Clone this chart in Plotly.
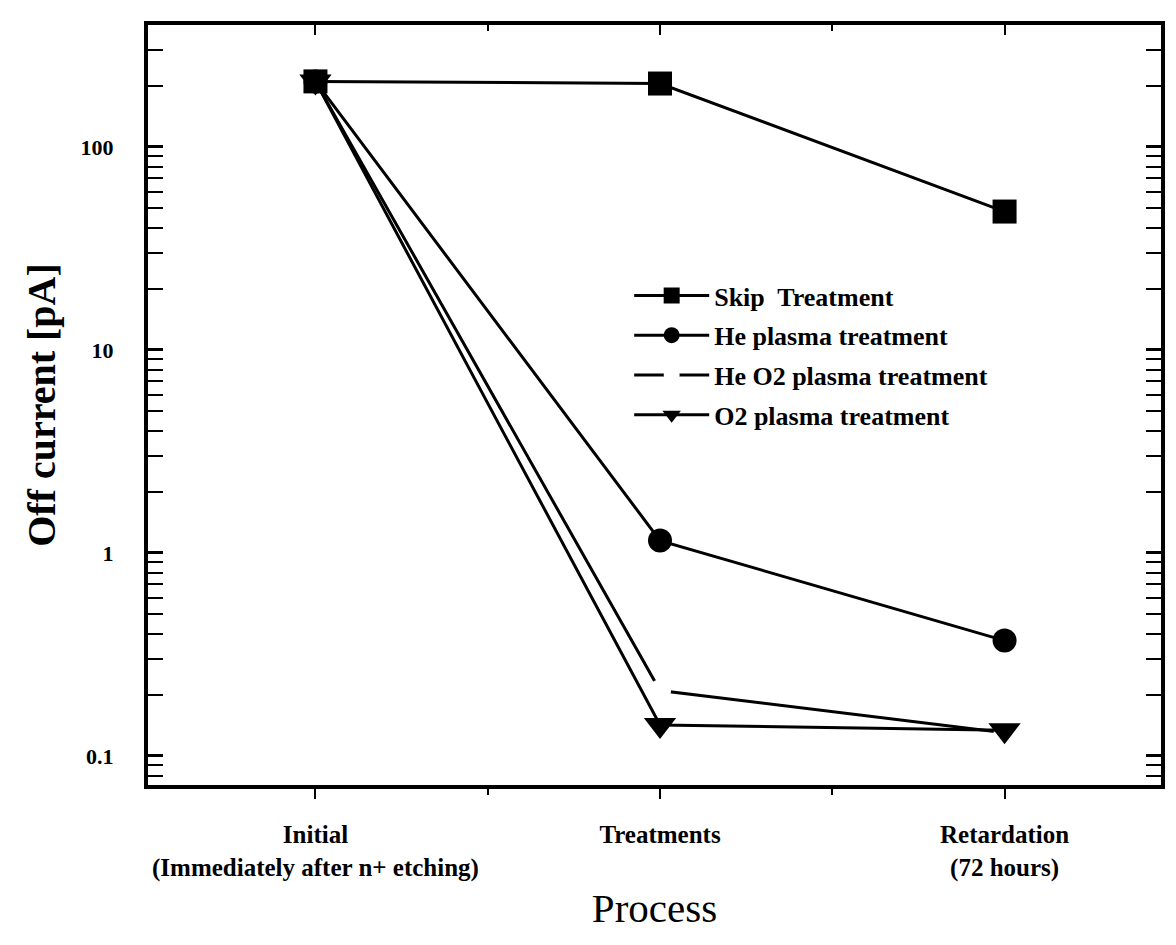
import plotly.graph_objects as go

categories = [0, 1, 2]
tick_labels = ["Initial<br>(Immediately after n+ etching)", "Treatments", "Retardation<br>(72 hours)"]

skip_treatment = [210, 205, 48]
he_plasma = [210, 1.15, 0.37]
he_o2_plasma = [210, 0.21, 0.13]
o2_plasma = [210, 0.142, 0.134]

y_tickvals = [0.1, 1, 10, 100]
y_ticktext = ["0.1", "1", "10", "100"]

FONT = "Liberation Serif"
fig = go.Figure()

series = [
    ("He O2 plasma treatment", he_o2_plasma, "circle", 22, "white", 3),
    ("Skip  Treatment", skip_treatment, "square", 24, "black", 1),
    ("He plasma treatment", he_plasma, "circle", 24, "black", 2),
    ("O2 plasma treatment", o2_plasma, "triangle-down", 28, "black", 4),
]
for name, vals, sym, size, mcol, rank in series:
    fig.add_trace(go.Scatter(
        x=categories, y=vals, name="<b>" + name + "</b>", mode="lines+markers",
        line=dict(color="black", width=3),
        marker=dict(symbol=sym, size=size, color=mcol, line=dict(width=0)),
        legendgroup=f"g{rank}", legendrank=rank,
    ))

fig.add_trace(go.Scatter(x=[0], y=[1], xaxis="x2", mode="markers", marker=dict(opacity=0),
                         showlegend=False, hoverinfo="skip"))

fig.update_layout(
    width=1176, height=945,
    margin=dict(l=148, r=11, t=25, b=160),
    plot_bgcolor="white", paper_bgcolor="white",
    font=dict(family=FONT, color="black"),
    showlegend=True,
    legend=dict(x=0.475, y=0.675, xanchor="left", yanchor="top",
                bgcolor="rgba(0,0,0,0)", font=dict(family=FONT, size=26, color="black"),
                tracegroupgap=3, itemwidth=75),
    xaxis=dict(
        range=[-0.486, 2.454], tickmode="array", tickvals=categories,
        ticktext=["<b>" + t.replace("<br>", "</b><br><b>") + "</b>" for t in tick_labels],
        ticks="outside", ticklen=10, tickwidth=2, tickcolor="black",
        showline=True, linewidth=4, linecolor="black", mirror=True,
        showgrid=False, zeroline=False,
        minor=dict(tickmode="array", tickvals=[0.5, 1.5], ticks="outside", ticklen=6, tickwidth=2, tickcolor="black"),
        tickfont=dict(family=FONT, size=25, color="black"), ticklabelstandoff=14,
        title=dict(text="Process", font=dict(family=FONT, size=41, color="black"), standoff=14),
    ),
    xaxis2=dict(
        overlaying="x", side="top", range=[-0.486, 2.454], tickmode="array", tickvals=categories,
        ticktext=["", "", ""], ticks="inside", ticklen=10, tickwidth=2, tickcolor="black",
        showgrid=False, zeroline=False, showline=False,
        minor=dict(tickmode="array", tickvals=[0.5, 1.5], ticks="inside", ticklen=6, tickwidth=2, tickcolor="black"),
    ),
    yaxis=dict(
        type="log", range=[-1.143, 2.60], tickmode="array", tickvals=y_tickvals,
        ticktext=["<b>" + t + "</b>" for t in y_ticktext],
        ticks="inside", ticklen=15, tickwidth=3, tickcolor="black",
        showline=True, linewidth=4, linecolor="black", mirror="allticks",
        showgrid=False, zeroline=False,
        minor=dict(ticks="inside", ticklen=7, tickwidth=2, tickcolor="black", dtick="D1", showgrid=False),
        tickfont=dict(family=FONT, size=22, color="black"), ticklabelstandoff=26,
        title=dict(text="<b>Off current [pA]</b>", font=dict(family=FONT, size=40, color="black"), standoff=14),
    ),
)

fig.write_html("out.html")
